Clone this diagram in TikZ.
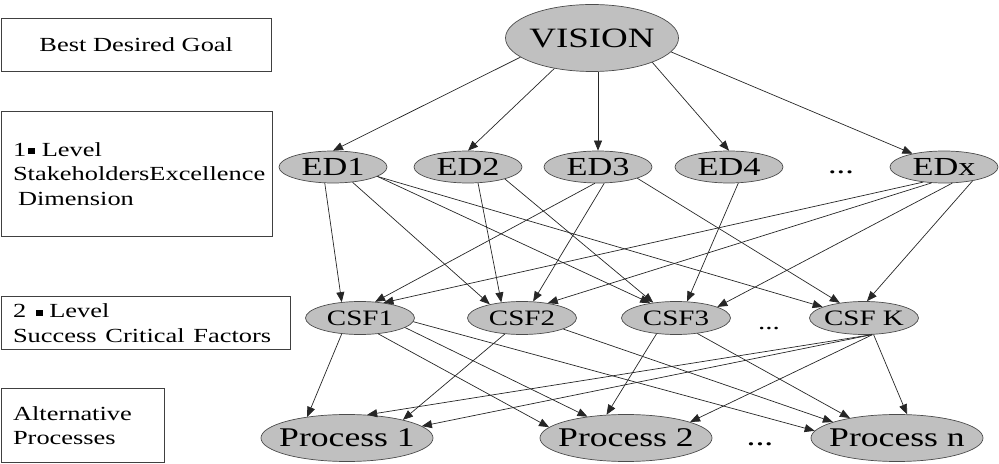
\documentclass[tikz,border=0pt]{standalone}
\usepackage{fontspec}
\setmainfont{Liberation Serif}
\newfontfamily\timesfont{Liberation Serif}
\usepackage{graphicx}
\usetikzlibrary{shapes.geometric,arrows.meta}

\definecolor{ovalgrey}{HTML}{C0C0C0}
\newcommand{\wide}[1]{\scalebox{1.32}[1]{#1}}
\newcommand{\ovaltext}[1]{\makebox[0pt]{\wide{#1}}}
\newcommand{\sqmark}{\rule[2bp]{5.3bp}{6bp}}

\begin{document}
\begin{tikzpicture}[x=1bp,y=-1bp]
		\tikzstyle {level box} = [draw=black!75, line width=0.9bp, rectangle, anchor=north west, inner xsep=12bp, inner ysep=0pt, font=\timesfont\fontsize{20bp}{24.5bp}\selectfont]
		\tikzstyle {grey oval} = [ellipse, draw=black!70, line width=0.7bp, fill=ovalgrey, inner sep=0pt]
		\tikzstyle {vision node} = [grey oval, minimum width=173bp, minimum height=67bp, font=\timesfont\fontsize{28bp}{30bp}\selectfont]
		\tikzstyle {dimension node} = [grey oval, minimum width=108bp, minimum height=32bp, font=\timesfont\fontsize{26bp}{28bp}\selectfont]
		\tikzstyle {factor node} = [grey oval, minimum width=109bp, minimum height=33bp, font=\timesfont\fontsize{22bp}{24bp}\selectfont]
		\tikzstyle {process node} = [grey oval, minimum width=172bp, minimum height=47bp, font=\timesfont\fontsize{27bp}{29bp}\selectfont]
		\tikzstyle {link line} = [-{Triangle[length=10bp,width=8bp]}, line width=0.7bp, black!85]

		\useasboundingbox (0,0) rectangle (999,464);

		\node[level box, minimum width=270.4bp, minimum height=53bp, align=center] (goal box) at (0.6,18) {\wide{Best Desired Goal}};
		\node[level box, minimum width=270.4bp, minimum height=125bp, text width=247bp, align=left] (dimension box) at (0.6,111)
			{\wide{1\hspace{1.5bp}\sqmark\hspace{5bp}Level}\\ \wide{StakeholdersExcellence}\\ \hspace*{5bp}\wide{Dimension}};
		\node[level box, minimum width=288.4bp, minimum height=53bp, text width=265bp, align=left] (factor box) at (0.6,296)
			{\wide{2 \hspace{1bp}\sqmark\hspace{4.5bp}Level}\\ \wide{Success Critical Factors}};
		\node[level box, minimum width=162.4bp, minimum height=74bp, text width=139bp, align=left] (process box) at (0.6,388)
			{\wide{Alternative}\\ \wide{Processes}};

		\node[vision node] (VISION) at (592,38) {\ovaltext{VISION}};

		\node[dimension node] (ED1) at (333,167) {\ovaltext{ED1}};
		\node[dimension node] (ED2) at (468,167) {\ovaltext{ED2}};
		\node[dimension node] (ED3) at (598,167) {\ovaltext{ED3}};
		\node[dimension node] (ED4) at (729,167) {\ovaltext{ED4}};
		\node[inner sep=0pt, font=\timesfont\fontsize{26bp}{28bp}\selectfont] (ED dots) at (841,165) {\wide{\vphantom{ED}...}};
		\node[dimension node] (EDx) at (944,167) {\ovaltext{EDx}};

		\node[factor node] (CSF1) at (360,318) {\ovaltext{CSF1}};
		\node[factor node] (CSF2) at (522,318) {\ovaltext{CSF2}};
		\node[factor node] (CSF3) at (676,318) {\ovaltext{CSF3}};
		\node[inner sep=0pt, font=\timesfont\fontsize{22bp}{24bp}\selectfont] (CSF dots) at (769,322) {\wide{\vphantom{CSF}...}};
		\node[factor node] (CSFK) at (864,318) {\ovaltext{CSF K}};

		\node[process node] (P1) at (347,438) {\ovaltext{Process 1}};
		\node[process node] (P2) at (626,438) {\ovaltext{Process 2}};
		\node[inner sep=0pt, font=\timesfont\fontsize{27bp}{29bp}\selectfont] (P dots) at (760,437) {\wide{\vphantom{P}...}};
		\node[process node] (Pn) at (897,438) {\ovaltext{Process n}};

		\draw[link line] (VISION.195) -- (ED1.north);
		\draw[link line] (VISION.219) -- (ED2.north);
		\draw[link line] (ED3.north |- VISION.south) -- (ED3.north);
		\draw[link line] (VISION.338) -- (ED4.north);
		\draw[link line] (VISION.350) -- (EDx);

		\draw[link line] (ED1.243) -- (CSF1.139);
		\draw[link line] (ED1.322) -- (CSF2.157);
		\draw[link line] (ED1.348) -- (CSF3.150);
		\draw[link line] (ED1.348) -- (CSFK.165);
		\draw[link line] (ED2.302) -- (CSF2.143);
		\draw[link line] (ED2.342) -- (CSF3.146);
		\draw[link line] (ED3.259) -- (CSF1.47);
		\draw[link line] (ED3.291) -- (CSF2.56);
		\draw[link line] (ED3.344) -- (CSFK.148);
		\draw[link line] (ED4.300) -- (CSF3.56);
		\draw[link line] (EDx.216) -- (CSF1.33);
		\draw[link line] (EDx.232) -- (CSF2.30);
		\draw[link line] (EDx.297) -- (CSF3.15);
		\draw[link line] (EDx.334) -- (CSFK.80);

		\draw[link line] (CSF1.221) -- (P1.152);
		\draw[link line] (CSF1.319) -- (P2.172);
		\draw[link line] (CSF1.348) -- (P2.151);
		\draw[link line] (CSF1.356) -- (Pn.175);
		\draw[link line] (CSF2.223) -- (P1.18);
		\draw[link line] (CSF2.345) -- (Pn.166);
		\draw[link line] (CSF3.219) -- (P2.130);
		\draw[link line] (CSF3.324) -- (Pn.157);
		\draw[link line] (CSFK.295) -- (P1.49);
		\draw[link line] (CSFK.295) -- (P1.9);
		\draw[link line] (CSFK.297) -- (P2.14);
		\draw[link line] (CSFK.300) -- (Pn.67);
\end{tikzpicture}
\end{document}
